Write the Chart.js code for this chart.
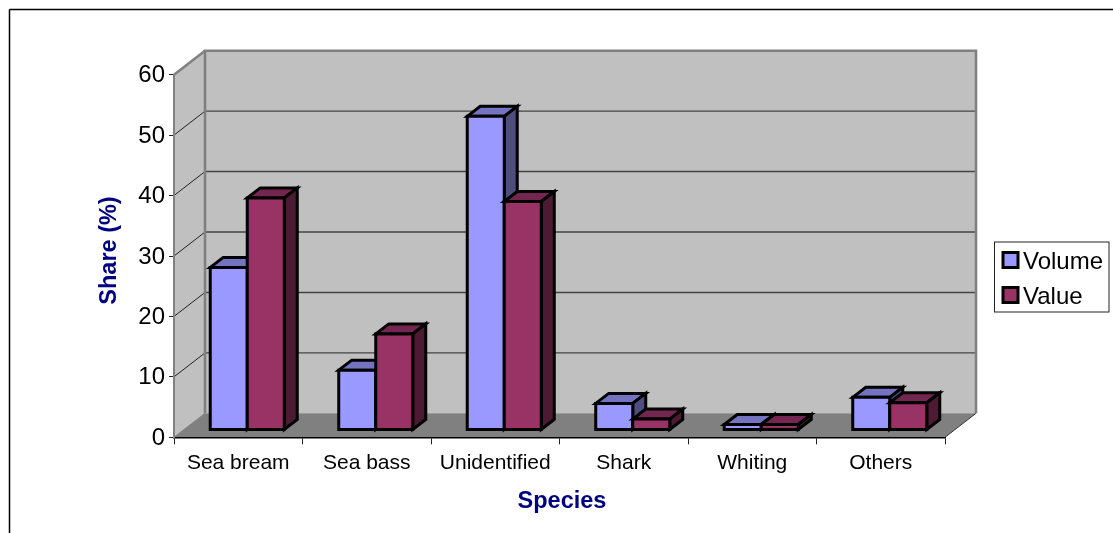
<!DOCTYPE html>
<html>
<head>
<meta charset="utf-8">
<title>Share by species</title>
<script src="https://cdn.jsdelivr.net/npm/chart.js@4"></script>
<style>
  html, body { margin: 0; padding: 0; background: #fff; overflow: hidden; }
  #wrap { width: 1113px; height: 533px; }
</style>
</head>
<body>
<div id="wrap"><canvas id="chart"></canvas></div>
<script>
const categories = ['Sea bream', 'Sea bass', 'Unidentified', 'Shark', 'Whiting', 'Others'];
const volume = [26.9, 9.9, 51.9, 4.4, 0.9, 5.4];
const value = [38.4, 15.9, 37.8, 1.8, 0.9, 4.5];
const seriesNames = ['Volume', 'Value'];
const yTicks = [0, 10, 20, 30, 40, 50, 60];
const xTitle = 'Species';
const yTitle = 'Share (%)';

const FONT = '"Liberation Sans", Arial, sans-serif';
// how far the back wall sits behind the front plane
const WALL_DX = 31, WALL_DY = -24;
// bars sit in the middle of the floor and have their own depth
const BAR_SHIFT_X = 9, BAR_SHIFT_Y = -7.3;
const BAR_DX = 13, BAR_DY = -10;

const faces = [
  { front: '#9999ff', top: '#7373bf', side: '#4d4d80' },
  { front: '#993366', top: '#732650', side: '#4d1a33' }
];

function poly(ctx, pts, fill, stroke, lw) {
  ctx.beginPath();
  pts.forEach((p, i) => i ? ctx.lineTo(p[0], p[1]) : ctx.moveTo(p[0], p[1]));
  ctx.closePath();
  if (fill) { ctx.fillStyle = fill; ctx.fill(); }
  if (stroke) { ctx.strokeStyle = stroke; ctx.lineWidth = lw; ctx.stroke(); }
}

function line(ctx, x1, y1, x2, y2, color, lw) {
  ctx.beginPath();
  ctx.moveTo(x1, y1);
  ctx.lineTo(x2, y2);
  ctx.strokeStyle = color;
  ctx.lineWidth = lw;
  ctx.stroke();
}

// walls, floor and outer frame go under everything else
const box3d = {
  id: 'box3d',
  beforeDraw(chart) {
    const ctx = chart.ctx;
    const { left, right, top, bottom } = chart.chartArea;
    const y = chart.scales.y;
    const backL = left + WALL_DX, backR = right + WALL_DX;
    const backT = top + WALL_DY, backB = bottom + WALL_DY;

    ctx.save();
    ctx.fillStyle = '#fff';
    ctx.fillRect(0, 0, chart.width, chart.height);

    // frame runs off the right and bottom of the page
    line(ctx, 9.5, 533, 9.5, 9.5, '#000', 1.5);
    line(ctx, 9.5, 9.5, 1113, 9.5, '#000', 1.5);

    poly(ctx, [[backL, backT], [backR, backT], [backR, backB], [backL, backB]], '#c0c0c0');
    poly(ctx, [[left, top], [backL, backT], [backL, backB], [left, bottom]], '#c0c0c0');
    poly(ctx, [[left, bottom], [backL, backB], [backR, backB], [right, bottom]], '#808080');

    yTicks.forEach(t => {
      if (t === 0 || t === 60) return;
      const py = y.getPixelForValue(t);
      line(ctx, left, py, backL, py + WALL_DY, '#222', 1);
      line(ctx, backL, py + WALL_DY, backR, py + WALL_DY, '#444', 1.4);
    });

    line(ctx, left, bottom, backL, backB, '#808080', 1);
    line(ctx, right, bottom, backR, backB, '#333', 1);
    line(ctx, left, top, backL, backT, '#808080', 2.5);
    ctx.lineJoin = 'miter';
    ctx.beginPath();
    ctx.moveTo(backL, backB);
    ctx.lineTo(backL, backT);
    ctx.lineTo(backR, backT);
    ctx.lineTo(backR, backB);
    ctx.strokeStyle = '#808080';
    ctx.lineWidth = 2.6;
    ctx.stroke();
    ctx.restore();
  },
  // the bars are drawn as boxes from their own element geometry
  beforeDatasetsDraw(chart) {
    const ctx = chart.ctx;
    ctx.save();
    ctx.lineJoin = 'miter';
    ctx.miterLimit = 4;
    categories.forEach((c, i) => {
      chart.data.datasets.forEach((ds, d) => {
        const bar = chart.getDatasetMeta(d).data[i];
        const l = bar.x - bar.width / 2 + BAR_SHIFT_X;
        const r = bar.x + bar.width / 2 + BAR_SHIFT_X;
        const t = bar.y + BAR_SHIFT_Y;
        const b = bar.base + BAR_SHIFT_Y;
        const f = faces[d];
        poly(ctx, [[l, t], [l + BAR_DX, t + BAR_DY], [r + BAR_DX, t + BAR_DY], [r, t]], f.top, '#000', 3);
        poly(ctx, [[r, t], [r + BAR_DX, t + BAR_DY], [r + BAR_DX, b + BAR_DY], [r, b]], f.side, '#000', 3);
        poly(ctx, [[l, t], [r, t], [r, b], [l, b]], f.front, '#000', 3);
      });
    });
    ctx.restore();
    return false;
  },
  afterDraw(chart) {
    const ctx = chart.ctx;
    ctx.save();

    // axis titles
    ctx.fillStyle = '#000080';
    ctx.font = 'bold 23.5px ' + FONT;
    ctx.textAlign = 'center';
    ctx.textBaseline = 'middle';
    ctx.fillText(xTitle, 562, 502);
    ctx.translate(110, 250.5);
    ctx.rotate(-Math.PI / 2);
    ctx.fillText(yTitle, 0, 0);
    ctx.setTransform(1, 0, 0, 1, 0, 0);

    // legend box
    ctx.fillStyle = '#fff';
    ctx.strokeStyle = '#222';
    ctx.lineWidth = 1;
    ctx.fillRect(994.5, 242, 114.5, 70);
    ctx.strokeRect(994.5, 242, 114.5, 70);
    const rows = [260, 295];
    seriesNames.forEach((name, i) => {
      ctx.fillStyle = faces[i].front;
      ctx.strokeStyle = '#000';
      ctx.lineWidth = 3;
      ctx.fillRect(1003, rows[i] - 7.5, 15, 15);
      ctx.strokeRect(1003, rows[i] - 7.5, 15, 15);
      ctx.fillStyle = '#000';
      ctx.font = '24px ' + FONT;
      ctx.textAlign = 'left';
      ctx.textBaseline = 'middle';
      ctx.fillText(name, 1023, rows[i] + 2);
    });
    ctx.restore();
  }
};

new Chart(document.getElementById('chart'), {
  type: 'bar',
  data: {
    labels: categories,
    datasets: [
      { label: seriesNames[0], data: volume, backgroundColor: faces[0].front },
      { label: seriesNames[1], data: value, backgroundColor: faces[1].front }
    ]
  },
  options: {
    responsive: true,
    maintainAspectRatio: false,
    animation: false,
    categoryPercentage: 0.576,
    barPercentage: 1,
    layout: { padding: { left: 110, right: 168, top: 74.7, bottom: 0 } },
    plugins: { legend: { display: false }, tooltip: { enabled: false } },
    scales: {
      x: {
        afterFit(scale) { scale.height = 533 - 437.3; },
        grid: { offset: true, drawOnChartArea: false, drawTicks: true, tickLength: 7, color: '#222', lineWidth: 1 },
        border: { color: '#000', width: 1.5 },
        ticks: { color: '#000', padding: 6, maxRotation: 0, autoSkip: false, font: { family: FONT, size: 21 } }
      },
      y: {
        min: 0,
        max: 60,
        afterFit(scale) { scale.width = 64; },
        afterBuildTicks(scale) { scale.ticks = yTicks.map(v => ({ value: v })); },
        grid: { drawOnChartArea: false, drawTicks: true, tickLength: 5, color: '#222', lineWidth: 1 },
        border: { color: '#808080', width: 2 },
        ticks: { color: '#000', padding: 4, labelOffset: 1, font: { family: FONT, size: 24 } }
      }
    }
  },
  plugins: [box3d]
});
</script>
</body>
</html>
